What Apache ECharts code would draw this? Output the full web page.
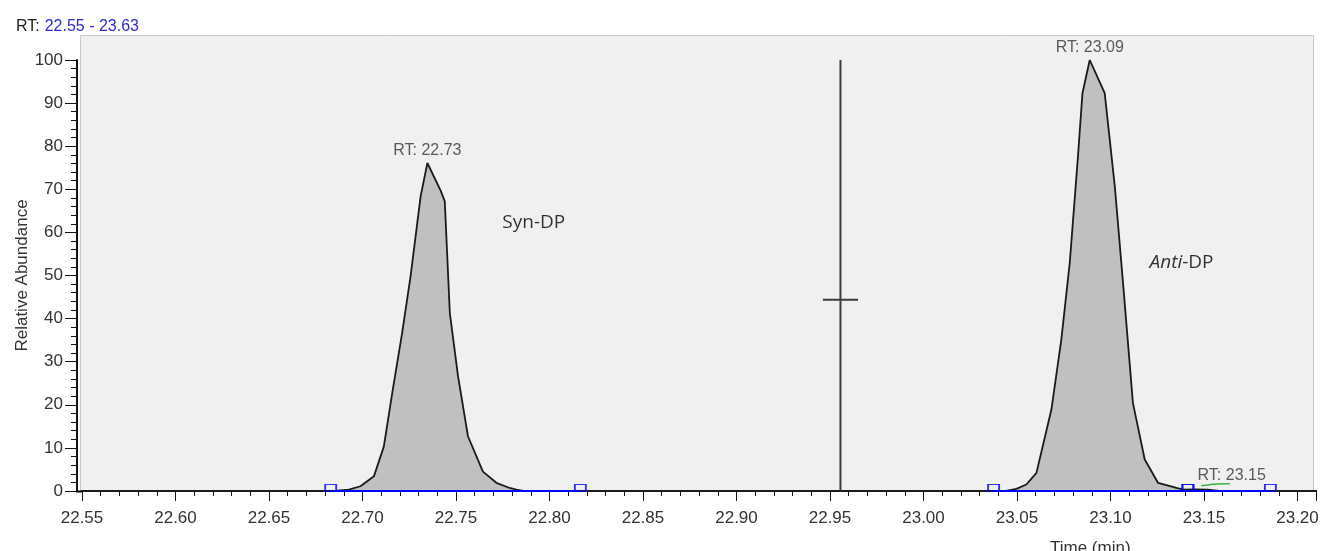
<!DOCTYPE html>
<html>
<head>
<meta charset="utf-8">
<script src="https://cdn.jsdelivr.net/npm/echarts@6/dist/echarts.min.js"></script>
<style>
html,body{margin:0;padding:0;background:#fff;}
#chart{width:1324px;height:551px;}
</style>
</head>
<body>
<div id="chart"></div>
<script>
// ---- data ----
const chromTime = [22.550, 22.6850, 22.6927, 22.6989, 22.7061, 22.7114, 22.7159, 22.7212, 22.7257, 22.7311, 22.7347, 22.7418, 22.7440, 22.7467, 22.7511, 22.7564, 22.7644, 22.7716, 22.7787, 22.7823, 22.7860,
                   23.0440, 23.0497, 23.0550, 23.0604, 23.0684, 23.0737, 23.0782, 23.0826, 23.0850, 23.0889, 23.0969, 23.1023, 23.1067, 23.1120, 23.1183, 23.1254, 23.1353, 23.1388, 23.1450, 23.1520, 23.1580, 23.2100];
const chromIntensity = [0, 0, 0.3, 1.1, 3.4, 10.3, 22.7, 36.7, 49.8, 68.4, 76.1, 69.7, 67.2, 41.3, 26.6, 12.7, 4.5, 1.9, 0.7, 0.3, 0,
                        0, 0.5, 1.5, 4.2, 18.9, 35.1, 52.9, 77.6, 92.3, 100, 92.3, 70.7, 48.3, 20.4, 7.3, 1.9, 0.7, 0.3, 0.4, 0.3, 0, 0];
const smallPeakTime = [23.1486, 23.1530, 23.1570, 23.1638];
const smallPeakIntensity = [1.2, 1.45, 1.65, 1.7];
const baselineStarts = [22.683, 23.0375, 23.1414];
const baselineEnds = [22.8165, 23.1414, 23.1855];
const peakLabelTexts = ['RT: 22.73', 'RT: 23.09', 'RT: 23.15'];
const peakLabelTimes = [22.7347, 23.0889, 23.1648];
const peakLabelValues = [76.1, 100, 0.6];
const compoundNames = ['{n|Syn-DP}', '{i|Anti}{n|-DP}'];
const compoundTimes = [22.7916, 23.138];
const compoundValues = [62.25, 53.0];
const markerTime = 22.9556;
const markerTop = 100;
const markerCrossValue = 44.4;
const markerHalfWidth = 0.0094;
const rtRangeText = '22.55 - 23.63';
const xTickInterval = 0.05;
const xMinorInterval = 0.01;
const yTickInterval = 10;

// ---- chart ----
const chart = echarts.init(document.getElementById('chart'), null, {renderer: 'canvas'});
const labelFont = 'Liberation Sans, Arial, sans-serif';
const xMin = 22.55, xMax = 23.21;

const series = [];
series.push({
  type: 'line', name: 'chrom', z: 3,
  data: chromTime.map((t, i) => [t, chromIntensity[i]]),
  symbol: 'none',
  lineStyle: {color: '#1a1a1a', width: 1.8},
  areaStyle: {color: '#c0c0c0', opacity: 1}
});
baselineStarts.forEach((s, i) => {
  series.push({
    type: 'line', z: 4, symbol: 'none',
    data: [[s, 0], [baselineEnds[i], 0]],
    lineStyle: {color: '#0000ff', width: 2}
  });
});
series.push({
  type: 'line', z: 4, symbol: 'none', smooth: true,
  data: smallPeakTime.map((t, i) => [t, smallPeakIntensity[i]]),
  lineStyle: {color: '#3cb043', width: 1.5}
});
const squarePts = [];
baselineStarts.forEach((s, i) => { squarePts.push([s, 0]); squarePts.push([baselineEnds[i], 0]); });
series.push({
  type: 'scatter', z: 5, symbol: 'rect', symbolSize: [11, 7], symbolOffset: [0, -3],
  data: squarePts,
  itemStyle: {color: 'rgba(0,0,0,0)', borderColor: '#0000ff', borderWidth: 1.5}
});
series.push({
  type: 'line', z: 4, symbol: 'none',
  data: [[markerTime, 0], [markerTime, markerTop]],
  lineStyle: {color: '#3c3c3c', width: 2}
});
series.push({
  type: 'line', z: 4, symbol: 'none',
  data: [[markerTime - markerHalfWidth, markerCrossValue], [markerTime + markerHalfWidth, markerCrossValue]],
  lineStyle: {color: '#3c3c3c', width: 2}
});
series.push({
  type: 'scatter', z: 6, symbolSize: 1,
  itemStyle: {color: 'rgba(0,0,0,0)'},
  data: peakLabelTimes.map((t, i) => ({value: [t, peakLabelValues[i]], label: {formatter: peakLabelTexts[i]}})),
  label: {show: true, position: 'top', distance: 4, color: '#333', fontFamily: labelFont, fontSize: 16}
});
series.push({
  type: 'scatter', z: 6, symbolSize: 1,
  itemStyle: {color: 'rgba(0,0,0,0)'},
  data: compoundTimes.map((t, i) => ({value: [t, compoundValues[i]], label: {formatter: compoundNames[i]}})),
  label: {
    show: true, position: 'inside', color: '#000',
    rich: {
      n: {fontFamily: 'Open Sans', fontSize: 19, color: '#000'},
      i: {fontFamily: 'Open Sans', fontSize: 19, fontStyle: 'italic', color: '#000'}
    }
  }
});

const option = {
  animation: false,
  backgroundColor: '#ffffff',
  graphic: [
    {type: 'rect', z: -10, silent: true, shape: {x: 80.5, y: 35.5, width: 1233, height: 456},
     style: {fill: '#f0f0f0', stroke: '#c8c8c8', lineWidth: 1}},
    {type: 'line', z: 10, silent: true, shape: {x1: 76, y1: 491.5, x2: 83, y2: 491.5},
     style: {stroke: '#000', lineWidth: 2}}
  ],
  title: [
    {
      text: '{k|RT:} {v|' + rtRangeText + '}', left: 11, top: 13,
      textStyle: {fontWeight: 'normal', rich: {
        k: {fontFamily: labelFont, fontSize: 16, fontWeight: 'normal', color: '#222'},
        v: {fontFamily: labelFont, fontSize: 16, fontWeight: 'normal', color: '#2b2bcc'}
      }}
    },
    {
      text: 'Time (min)', left: 1045, top: 535,
      textStyle: {fontFamily: labelFont, fontSize: 17, fontWeight: 'normal', color: '#333'}
    }
  ],
  grid: {left: 82, right: 1324 - (82 + (xMax - xMin) * 1870), top: 60, bottom: 60, containLabel: false},
  xAxis: [
    {
      type: 'value', min: xMin, max: xMax, interval: xTickInterval, position: 'bottom',
      axisLine: {show: true, onZero: false, lineStyle: {color: '#000', width: 2}},
      axisTick: {show: true, length: 10, lineStyle: {color: '#111', width: 1}},
      splitLine: {show: false},
      axisLabel: {
        margin: 19, color: '#333', fontFamily: labelFont, fontSize: 17,
        formatter: v => Math.abs(v / xTickInterval - Math.round(v / xTickInterval)) < 1e-6 ? v.toFixed(2) : ''
      }
    },
    {
      type: 'value', min: xMin, max: xMax, interval: xMinorInterval, position: 'bottom',
      axisLine: {show: false},
      axisTick: {show: true, length: 5, lineStyle: {color: '#111', width: 1}},
      axisLabel: {show: false},
      splitLine: {show: false}
    }
  ],
  yAxis: {
    type: 'value', min: 0, max: 100, interval: yTickInterval, offset: 5,
    name: 'Relative Abundance', nameLocation: 'middle', nameRotate: 90, nameGap: 46,
    nameMoveOverlap: false,
    nameTextStyle: {fontFamily: labelFont, fontSize: 17, color: '#333'},
    axisLine: {show: true, lineStyle: {color: '#111', width: 2}},
    axisTick: {show: true, length: 12, lineStyle: {color: '#111', width: 1}},
    minorTick: {show: true, splitNumber: 5, length: 6, lineStyle: {color: '#111', width: 1}},
    splitLine: {show: false},
    axisLabel: {margin: 14, color: '#333', fontFamily: labelFont, fontSize: 17}
  },
  series: series
};
chart.setOption(option);
</script>
</body>
</html>
